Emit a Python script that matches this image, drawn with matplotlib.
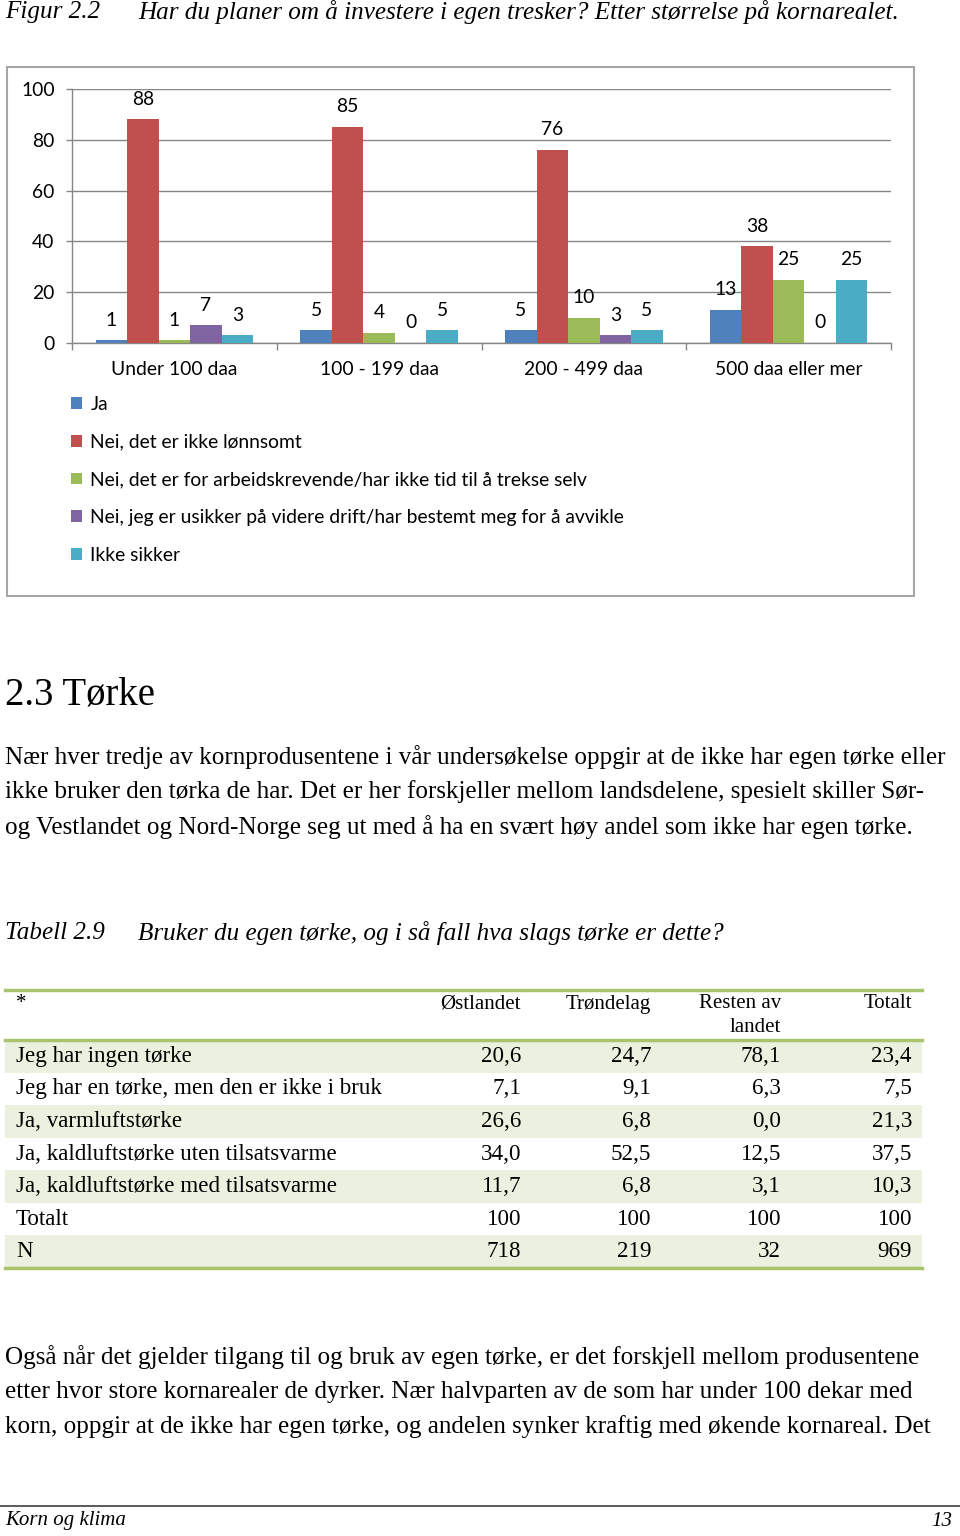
import matplotlib
matplotlib.use("Agg")
import matplotlib.pyplot as plt
from matplotlib.patches import Rectangle, Patch
from matplotlib.lines import Line2D
import numpy as np

W, H = 960, 1536
fig = plt.figure(figsize=(W / 100, H / 100), dpi=100)

def fx(x):
    return x / W

def fy(y):
    return 1 - y / H

SERIF = "Liberation Serif"
SANS = "Lato"

# ---------------- data ----------------
categories = ["Under 100 daa", "100 - 199 daa", "200 - 499 daa", "500 daa eller mer"]
series_names = [
    "Ja",
    "Nei, det er ikke lønnsomt",
    "Nei, det er for arbeidskrevende/har ikke tid til å trekse selv",
    "Nei, jeg er usikker på videre drift/har bestemt meg for å avvikle",
    "Ikke sikker",
]
ja = [1, 5, 5, 13]
nei_lonnsomt = [88, 85, 76, 38]
nei_arbeid = [1, 4, 10, 25]
nei_usikker = [7, 0, 3, 0]
ikke_sikker = [3, 5, 5, 25]
series_values = [ja, nei_lonnsomt, nei_arbeid, nei_usikker, ikke_sikker]
series_colors = ["#4F81BD", "#C0504D", "#9BBB59", "#8064A2", "#4BACC6"]
y_ticks = [0, 20, 40, 60, 80, 100]

table_header = ["*", "Østlandet", "Trøndelag", "Resten av\nlandet", "Totalt"]
table_rows = [
    "Jeg har ingen tørke",
    "Jeg har en tørke, men den er ikke i bruk",
    "Ja, varmluftstørke",
    "Ja, kaldluftstørke uten tilsatsvarme",
    "Ja, kaldluftstørke med tilsatsvarme",
    "Totalt",
    "N",
]
col_ostlandet = ["20,6", "7,1", "26,6", "34,0", "11,7", "100", "718"]
col_trondelag = ["24,7", "9,1", "6,8", "52,5", "6,8", "100", "219"]
col_resten = ["78,1", "6,3", "0,0", "12,5", "3,1", "100", "32"]
col_totalt = ["23,4", "7,5", "21,3", "37,5", "10,3", "100", "969"]

fig_caption_num = "Figur 2.2"
fig_caption = "Har du planer om å investere i egen tresker? Etter størrelse på kornarealet."
heading = "2.3 Tørke"
para1 = [
    "Nær hver tredje av kornprodusentene i vår undersøkelse oppgir at de ikke har egen tørke eller",
    "ikke bruker den tørka de har. Det er her forskjeller mellom landsdelene, spesielt skiller Sør-",
    "og Vestlandet og Nord-Norge seg ut med å ha en svært høy andel som ikke har egen tørke.",
]
tab_caption_num = "Tabell 2.9"
tab_caption = "Bruker du egen tørke, og i så fall hva slags tørke er dette?"
para2 = [
    "Også når det gjelder tilgang til og bruk av egen tørke, er det forskjell mellom produsentene",
    "etter hvor store kornarealer de dyrker. Nær halvparten av de som har under 100 dekar med",
    "korn, oppgir at de ikke har egen tørke, og andelen synker kraftig med økende kornareal. Det",
]
footer_left = "Korn og klima"
footer_right = "13"

# ---------------- page text ----------------
BODY = 18.1
SFS = 13.9
fig.text(fx(5), fy(12), fig_caption_num, fontsize=BODY, family=SERIF, style="italic", va="center")
fig.text(fx(138), fy(12), fig_caption, fontsize=BODY, family=SERIF, style="italic", va="center")

# chart frame
fig.patches.append(Rectangle((fx(7), fy(596)), fx(914) - fx(7), fy(67) - fy(596),
                             transform=fig.transFigure, fill=False, edgecolor="#a6a6a6",
                             linewidth=1.5, zorder=0))

# ---------------- chart ----------------
ax = fig.add_axes([fx(72), fy(343), fx(891) - fx(72), fy(89) - fy(343)])
n_series = len(series_values)
bw = 1 / 6.5
x = np.arange(len(categories)) + 0.5
handles = []
for i, (vals, col, name) in enumerate(zip(series_values, series_colors, series_names)):
    pos = x + (i - (n_series - 1) / 2) * bw
    ax.bar(pos, vals, width=bw, color=col, label=name, zorder=3)
    handles.append(Patch(facecolor=col))
    for p, v in zip(pos, vals):
        ax.annotate(str(v), (p, v), xytext=(0, 14.5), textcoords="offset points",
                    ha="center", va="center", fontsize=SFS, family=SANS)

ax.set_xlim(0, len(categories))
ax.set_ylim(0, 100)
ax.set_yticks(y_ticks)
ax.set_yticklabels([str(t) for t in y_ticks], fontsize=SFS, family=SANS)
ax.tick_params(axis="y", length=4, pad=8.5, color="#868686", width=1)
ax.set_xticks(np.arange(len(categories) + 1))
ax.set_xticklabels([])
ax.set_xticks(x, minor=True)
ax.set_xticklabels(categories, minor=True, fontsize=SFS, family=SANS)
ax.tick_params(axis="x", which="major", length=5, color="#868686", width=1)
ax.tick_params(axis="x", which="minor", length=0, pad=13)
ax.grid(axis="y", color="#868686", linewidth=1, zorder=0)
for s in ["top", "right"]:
    ax.spines[s].set_visible(False)
for s in ["left", "bottom"]:
    ax.spines[s].set_color("#868686")
    ax.spines[s].set_linewidth(1)

ax.legend(handles, series_names, loc="upper left",
          bbox_to_anchor=(fx(71), fy(396)), bbox_transform=fig.transFigure,
          frameon=False, prop={"family": SANS, "size": SFS},
          handlelength=0.55, handleheight=0.55, handletextpad=0.45,
          labelspacing=1.07, borderpad=0, borderaxespad=0)

# ---------------- section text ----------------
fig.text(fx(5), fy(695), heading, fontsize=27.9, family=SERIF, va="center")
for i, line in enumerate(para1):
    fig.text(fx(5), fy(757 + 35 * i), line, fontsize=BODY, family=SERIF, va="center")

fig.text(fx(5), fy(933), tab_caption_num, fontsize=BODY, family=SERIF, style="italic", va="center")
fig.text(fx(138), fy(933), tab_caption, fontsize=BODY, family=SERIF, style="italic", va="center")

# ---------------- table ----------------
TL, TR = 5, 922
GREEN = "#a9c46c"
SHADE = "#ebf1de"
row_top = 1040
row_h = (1268 - 1040) / len(table_rows)
for r in range(len(table_rows)):
    if r % 2 == 0:
        y0 = row_top + r * row_h
        fig.patches.append(Rectangle((fx(TL), fy(y0 + row_h)), fx(TR) - fx(TL), row_h / H,
                                     transform=fig.transFigure, facecolor=SHADE,
                                     edgecolor="none", zorder=0))
for yl in [990, 1040, 1268]:
    fig.add_artist(Line2D([fx(TL), fx(TR)], [fy(yl), fy(yl)], color=GREEN, linewidth=2.5,
                          transform=fig.transFigure))

TFS = 16.6
HFS = 15.0
col_right = [521, 651, 781, 912]
fig.text(fx(16), fy(1004), table_header[0], fontsize=HFS, family=SERIF, va="center")
for cx, hdr in zip(col_right, table_header[1:]):
    for k, part in enumerate(hdr.split("\n")):
        fig.text(fx(cx), fy(1004 + 24 * k), part, fontsize=HFS, family=SERIF,
                 va="center", ha="right")
cols = [col_ostlandet, col_trondelag, col_resten, col_totalt]
for r, lbl in enumerate(table_rows):
    yc = row_top + (r + 0.5) * row_h
    fig.text(fx(16), fy(yc), lbl, fontsize=TFS, family=SERIF, va="center")
    for cx, col in zip(col_right, cols):
        fig.text(fx(cx), fy(yc), col[r], fontsize=TFS, family=SERIF, va="center", ha="right")

for i, line in enumerate(para2):
    fig.text(fx(5), fy(1357 + 35 * i), line, fontsize=BODY, family=SERIF, va="center")

# ---------------- footer ----------------
fig.add_artist(Line2D([0, 1], [fy(1506), fy(1506)], color="#404040", linewidth=1.2,
                      transform=fig.transFigure))
fig.text(fx(5), fy(1521), footer_left, fontsize=15, family=SERIF, style="italic", va="center")
fig.text(fx(952), fy(1521), footer_right, fontsize=15, family=SERIF, style="italic",
         va="center", ha="right")

fig.savefig("out.png", dpi=100)
